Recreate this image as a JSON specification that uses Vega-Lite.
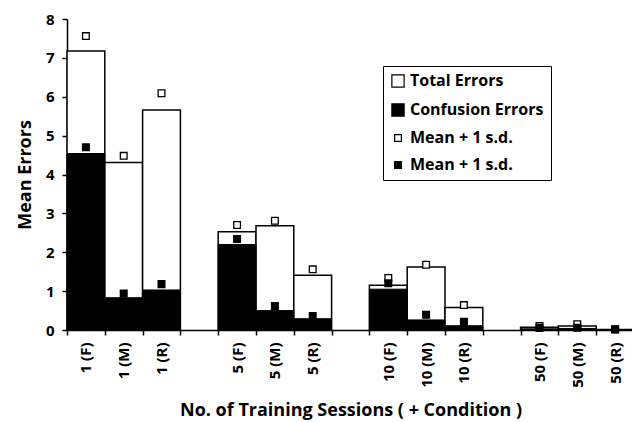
{
  "$schema": "https://vega.github.io/schema/vega-lite/v6.json",
  "width": 567,
  "height": 311,
  "autosize": "none",
  "padding": {"left": 67, "top": 19, "right": 0, "bottom": 92},
  "background": "white",
  "config": {
    "view": {"stroke": null},
    "font": "Open Sans",
    "axis": {
      "domainColor": "black",
      "domainWidth": 1.5,
      "tickColor": "black",
      "tickWidth": 1.5,
      "tickSize": 5,
      "labelColor": "black",
      "labelFont": "Open Sans",
      "labelFontWeight": "bold",
      "labelFontSize": 14,
      "titleColor": "black",
      "titleFont": "Open Sans",
      "titleFontWeight": "bold",
      "titleFontSize": 18,
      "grid": false
    }
  },
  "data": {
    "values": [
      {"cond": "1 (F)", "Total Errors": 7.18, "Confusion Errors": 4.54, "sdT": 7.56, "sdC": 4.70},
      {"cond": "1 (M)", "Total Errors": 4.31, "Confusion Errors": 0.83, "sdT": 4.48, "sdC": 0.94},
      {"cond": "1 (R)", "Total Errors": 5.66, "Confusion Errors": 1.03, "sdT": 6.09, "sdC": 1.18},
      {"cond": "5 (F)", "Total Errors": 2.53, "Confusion Errors": 2.20, "sdT": 2.70, "sdC": 2.34},
      {"cond": "5 (M)", "Total Errors": 2.68, "Confusion Errors": 0.50, "sdT": 2.81, "sdC": 0.62},
      {"cond": "5 (R)", "Total Errors": 1.41, "Confusion Errors": 0.29, "sdT": 1.56, "sdC": 0.36},
      {"cond": "10 (F)", "Total Errors": 1.15, "Confusion Errors": 1.05, "sdT": 1.34, "sdC": 1.20},
      {"cond": "10 (M)", "Total Errors": 1.62, "Confusion Errors": 0.26, "sdT": 1.68, "sdC": 0.39},
      {"cond": "10 (R)", "Total Errors": 0.58, "Confusion Errors": 0.11, "sdT": 0.64, "sdC": 0.21},
      {"cond": "50 (F)", "Total Errors": 0.07, "Confusion Errors": 0.03, "sdT": 0.10, "sdC": 0.05},
      {"cond": "50 (M)", "Total Errors": 0.10, "Confusion Errors": 0.04, "sdT": 0.15, "sdC": 0.06},
      {"cond": "50 (R)", "Total Errors": 0.01, "Confusion Errors": 0.0, "sdT": 0.02, "sdC": 0.01}
    ]
  },
  "transform": [
    {"fold": ["Total Errors", "Confusion Errors", "sdT", "sdC"], "as": ["series", "value"]}
  ],
  "encoding": {
    "x": {
      "field": "cond",
      "type": "nominal",
      "scale": {
        "domain": ["1 (F)", "1 (M)", "1 (R)", "g1", "5 (F)", "5 (M)", "5 (R)", "g2", "10 (F)", "10 (M)", "10 (R)", "g3", "50 (F)", "50 (M)", "50 (R)"],
        "paddingInner": 0,
        "paddingOuter": 0
      },
      "axis": {
        "title": "No. of Training Sessions ( + Condition )",
        "labelAngle": -90,
        "labelFontSize": 15,
        "labelPadding": 7,
        "tickBand": "extent",
        "labelExpr": "test(/^g/, datum.value) ? '' : datum.value",
        "titlePadding": 14
      }
    },
    "y": {
      "field": "value",
      "type": "quantitative",
      "stack": null,
      "scale": {"domain": [0, 8], "nice": false},
      "axis": {"title": "Mean Errors", "values": [0, 1, 2, 3, 4, 5, 6, 7, 8], "labelOverlap": false, "labelFontSize": 15, "labelPadding": 8, "titlePadding": 11}
    },
    "fill": {
      "field": "series",
      "type": "nominal",
      "scale": {
        "domain": ["Total Errors", "Confusion Errors", "sdT", "sdC"],
        "range": ["white", "black", "white", "black"]
      },
      "legend": {
        "title": null,
        "orient": "none",
        "legendX": 316,
        "legendY": 47,
        "strokeColor": "black",
        "fillColor": "white",
        "padding": 7,
        "symbolType": "square",
        "symbolStrokeColor": "black",
        "symbolStrokeWidth": 1.2,
        "labelFont": "Open Sans",
        "labelFontWeight": "bold",
        "labelFontSize": 16,
        "labelColor": "black",
        "rowPadding": 11,
        "labelExpr": "datum.label == 'sdT' || datum.label == 'sdC' ? 'Mean + 1 s.d.' : datum.label"
      }
    }
  },
  "layer": [
    {
      "transform": [{"filter": "datum.series == 'Total Errors'"}],
      "mark": {"type": "bar", "stroke": "black", "strokeWidth": 1.5}
    },
    {
      "transform": [{"filter": "datum.series == 'Confusion Errors'"}],
      "mark": {"type": "bar", "stroke": "black", "strokeWidth": 1}
    },
    {
      "transform": [{"filter": "datum.series == 'sdT' || datum.series == 'sdC'"}],
      "mark": {"type": "point", "shape": "square", "filled": true, "stroke": "black", "strokeWidth": 1.3, "opacity": 1},
      "encoding": {
        "size": {
          "field": "series",
          "type": "nominal",
          "scale": {
            "type": "ordinal",
            "domain": ["Total Errors", "Confusion Errors", "sdT", "sdC"],
            "range": [150, 150, 45, 45]
          },
          "legend": {"title": null}
        }
      }
    }
  ]
}
